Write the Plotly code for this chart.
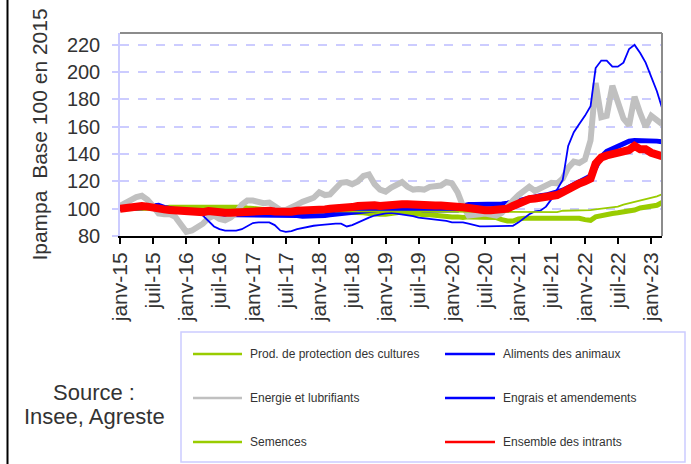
import pandas as pd
import plotly.graph_objects as go

# ---------------- data (monthly, janv-15 .. mars-23) ----------------
months = pd.date_range("2015-01-01", periods=99, freq="MS")

tick_dates = ["2015-01-01", "2015-07-01", "2016-01-01", "2016-07-01", "2017-01-01",
              "2017-07-01", "2018-01-01", "2018-07-01", "2019-01-01", "2019-07-01",
              "2020-01-01", "2020-07-01", "2021-01-01", "2021-07-01", "2022-01-01",
              "2022-07-01", "2023-01-01"]
tick_labels = ["janv-15", "juil-15", "janv-16", "juil-16", "janv-17", "juil-17",
               "janv-18", "juil-18", "janv-19", "juil-19", "janv-20", "juil-20",
               "janv-21", "juil-21", "janv-22", "juil-22", "janv-23"]

y_ticks = [80, 100, 120, 140, 160, 180, 200, 220]

prod_protection = [
    100, 100, 100.5, 100.5, 100.5, 100.5, 100.5, 100.5, 100.5, 101,
    101, 101, 101, 101, 101.5, 101.5, 101.5, 101.5, 101.5, 101.5,
    101.5, 101.5, 101, 100.5, 100, 99.5, 99.5, 99.5, 99, 99,
    99, 98.5, 98.5, 98.5, 98.5, 98.5, 98.5, 98, 98, 98,
    97.5, 97.5, 97.5, 97.5, 97, 96.5, 96, 96, 96, 96.5,
    97.5, 97.5, 97, 96.5, 95.5, 95.5, 95.5, 95, 94.5, 94,
    94, 94, 93.5, 94, 94, 94, 94, 94, 93.5, 92,
    91, 91, 92.5, 93, 93, 93, 93, 93, 93, 93,
    93, 93, 93, 93, 92, 91.5, 94, 95, 95.5, 96.5,
    97, 97.5, 98.5, 99, 100.5, 101, 101.5, 102.5, 104.5]

aliments = [
    100, 100.5, 101, 101, 101, 101, 102, 102.5, 101, 100,
    99, 98.5, 98, 97.5, 97, 97, 97, 96.5, 96, 96,
    95.5, 95.5, 95.5, 95, 95, 95, 95, 95, 95, 95,
    95, 95, 95, 94.5, 94.5, 94.5, 94.5, 95, 95.5, 96,
    96.5, 97, 97.5, 98, 98.5, 99, 99.5, 100, 100, 100,
    100, 100, 100, 99.5, 99.5, 99, 99, 99, 98.5, 98.5,
    98.5, 99, 102, 103, 103, 103, 103, 103, 103, 103.5,
    104, 105, 106, 107, 108, 109, 109.5, 110, 111, 112,
    113.5, 115.5, 117.5, 119.5, 121.5, 124, 130, 138, 142, 144,
    145.5, 147.5, 149.5, 150, 150, 150, 150, 149.5, 149]

energie = [
    102, 104.5, 106, 108.5, 109.5, 106.5, 102, 96.5, 96, 96,
    94, 89, 83, 84, 86.5, 89, 93, 95, 92.5, 91.5,
    93.5, 97, 103, 106, 106, 105, 104, 104.5, 102, 99,
    99, 100.5, 103, 105, 107, 108, 112, 110, 110.5, 115,
    119, 119.5, 118, 120, 124, 125, 118, 114, 112.5, 115.5,
    117.5, 119.5, 116, 114, 114.5, 114, 116, 116, 117, 119.5,
    118.5, 112, 102, 95, 95, 96, 96.5, 95.5, 95, 97,
    102, 106, 110, 113, 116, 113, 115, 117, 119, 118.5,
    122, 130, 134.5, 133.5, 136, 150, 192, 167, 168, 190,
    178, 166, 161, 182, 170, 160, 168, 165, 162]

engrais = [
    99, 99, 99, 99, 99.5, 100, 102, 103, 101, 99,
    98, 97.5, 97, 97, 96.5, 95, 91, 87, 85, 84,
    84, 84, 85, 87.5, 89.5, 90, 90, 90, 88, 84,
    83, 83.5, 85, 86, 87, 87.5, 88, 88.5, 89, 89,
    89, 87, 88, 90, 92, 93.5, 95, 96, 96.5, 97,
    96.5, 96, 95, 94.5, 93.5, 93, 93, 92.5, 92, 91,
    90, 90, 90, 89, 88, 87, 87, 87, 87, 87,
    87, 87.5, 90, 93.5, 96, 98, 98.5, 101.5, 107, 114,
    121, 146, 156, 162, 168, 175, 203, 208.5, 208.5, 204,
    204, 207, 217, 220, 214, 207, 196, 186, 174]

semences = [
    100, 100, 100, 100, 100, 100, 100, 100, 100, 100,
    100, 100, 100, 100, 100, 100, 100, 100, 100, 100,
    100, 99.5, 99.5, 99.5, 99.5, 99.5, 99.5, 99.5, 99.5, 99.5,
    99.5, 99, 99, 99, 99, 99, 99, 99, 99, 98,
    98, 98, 98, 98, 98, 98, 98, 97.5, 97.5, 97.5,
    97.5, 97.5, 97.5, 97.5, 97.5, 97.5, 97.5, 97.5, 97.5, 97.5,
    97.5, 97.5, 97.5, 97.5, 97.5, 97.5, 97.5, 97.5, 97.5, 97.5,
    97.5, 97.5, 97.5, 97.5, 97.5, 97.5, 97.5, 97.5, 97.5, 97.5,
    98.5, 98.5, 98.5, 98.5, 98.5, 99, 99.5, 100, 100.5, 101,
    101.5, 103, 104, 104.5, 105.5, 107, 108, 109, 110.5]

ensemble = [
    100, 100.5, 101.5, 102, 102, 101.5, 100.5, 100, 99.5, 99,
    98.5, 98, 97.5, 97, 97, 97.5, 98.3, 97.5, 97, 97,
    97, 97.3, 97.5, 98, 98.5, 98.5, 98.5, 98.5, 98, 97.5,
    97.3, 97.8, 98.5, 98.5, 98.8, 98.8, 99, 99.5, 100, 100,
    100.5, 101, 101.2, 102, 102.5, 103, 102.5, 102, 102.5, 103.4,
    103.4, 103.2, 103.2, 102.8, 102.4, 102.4, 102.4, 102.4, 102.4, 102.4,
    102.4, 102, 101, 100.5, 99.5, 99, 98.8, 98.8, 98.8, 99.3,
    100, 102, 104, 106, 107, 107.5, 108, 109, 109.5, 110,
    112, 114.5, 116.5, 118.5, 120, 122, 133, 137.5, 139, 140.5,
    141.5, 142, 143, 146, 143.5, 143.5, 141, 139.5, 138.5]

names = ["Prod. de protection des cultures", "Aliments des animaux",
         "Energie et lubrifiants", "Engrais et amendements",
         "Semences", "Ensemble des intrants"]

# ---------------- styling ----------------
GREEN, BLUE, GRAY, RED = "#99CC00", "#0000FF", "#C0C0C0", "#FF0000"
TXT = "#333333"
LAV = "#CCCCFF"
FONT = "Liberation Sans, Arial, sans-serif"

W, H = 691, 464
L, R, T, B = 120, 29, 33, 228
PW, PH = W - L - R, H - T - B


def xp(px):
    return (px - L) / PW


def yp(py):
    return 1 - (py - T) / PH


series = [
    (names[0], prod_protection, GREEN, 5),
    (names[1], aliments, BLUE, 5),
    (names[2], energie, GRAY, 6),
    (names[3], engrais, BLUE, 1.8),
    (names[4], semences, GREEN, 1.8),
    (names[5], ensemble, RED, 8),
]

fig = go.Figure()
for name, vals, color, width in series:
    fig.add_trace(go.Scatter(x=months, y=vals, mode="lines", name=name,
                             line=dict(color=color, width=width),
                             showlegend=False))

fig.update_layout(
    width=W, height=H,
    margin=dict(l=L, r=R, t=T, b=B, pad=0, autoexpand=False),
    paper_bgcolor="white", plot_bgcolor="white",
    font=dict(family=FONT, color=TXT),
    showlegend=False,
)

fig.update_xaxes(
    range=["2015-01-01", "2023-03-01"],
    tickmode="array", tickvals=tick_dates, ticktext=tick_labels,
    tickangle=-90, tickfont=dict(size=21, color=TXT, family=FONT),
    ticks="outside", ticklen=6, tickwidth=2, tickcolor="black",
    showline=True, linecolor="black", linewidth=2,
    showgrid=False, zeroline=False, automargin=False,
)

fig.update_yaxes(
    range=[80, 228.7],
    tickmode="array", tickvals=y_ticks,
    tickfont=dict(size=20, color=TXT, family=FONT),
    ticks="outside", ticklen=6, tickcolor=LAV, tickwidth=1.5,
    ticklabelstandoff=8,
    showline=True, linecolor=LAV, linewidth=1.5,
    showgrid=True, gridcolor=LAV, griddash="dash", gridwidth=1.5,
    zeroline=False, automargin=False,
    title=dict(text="Ipampa\u00a0 Base 100 en 2015",
               font=dict(size=21, color=TXT, family=FONT), standoff=14),
)

shapes = []
# plot frame (top & right)
shapes.append(dict(type="line", xref="paper", yref="paper", x0=0, x1=1, y0=1, y1=1,
                   line=dict(color="#8C8C8C", width=2)))
shapes.append(dict(type="line", xref="paper", yref="paper", x0=1, x1=1, y0=0, y1=1,
                   line=dict(color="#8C8C8C", width=2)))
# outer chart border on the left
shapes.append(dict(type="line", xref="paper", yref="paper", x0=xp(7.5), x1=xp(7.5),
                   y0=yp(466), y1=yp(-2), line=dict(color="black", width=2)))
# legend box
shapes.append(dict(type="rect", xref="paper", yref="paper", x0=xp(181), x1=xp(685),
                   y0=yp(462), y1=yp(332), line=dict(color=LAV, width=1.5),
                   fillcolor="rgba(0,0,0,0)"))

annotations = []
legend_rows = [354, 398, 442]
legend_cols = [(193, 242, 248), (445, 495, 501)]
legend_colors = [GREEN, BLUE, GRAY, BLUE, GREEN, RED]
for i, (name, color) in enumerate(zip(names, legend_colors)):
    r, c = divmod(i, 2)
    x0, x1, xt = legend_cols[c]
    yy = legend_rows[r]
    shapes.append(dict(type="line", xref="paper", yref="paper", x0=xp(x0), x1=xp(x1),
                       y0=yp(yy), y1=yp(yy), line=dict(color=color, width=2.5)))
    annotations.append(dict(text=name, xref="paper", yref="paper", x=xp(xt), y=yp(yy),
                            xanchor="left", yanchor="middle", showarrow=False,
                            font=dict(size=12, color=TXT, family=FONT)))

annotations.append(dict(text="Source :", xref="paper", yref="paper", x=xp(94), y=yp(392),
                        xanchor="center", yanchor="middle", showarrow=False,
                        font=dict(size=22, color=TXT, family=FONT)))
annotations.append(dict(text="Insee, Agreste", xref="paper", yref="paper", x=xp(94), y=yp(416),
                        xanchor="center", yanchor="middle", showarrow=False,
                        font=dict(size=22, color=TXT, family=FONT)))

fig.update_layout(shapes=shapes, annotations=annotations)

fig.write_html("out.html",
               config={"displayModeBar": False},
               post_script="document.body.style.margin='0';"
                           "document.body.style.overflow='hidden';")
